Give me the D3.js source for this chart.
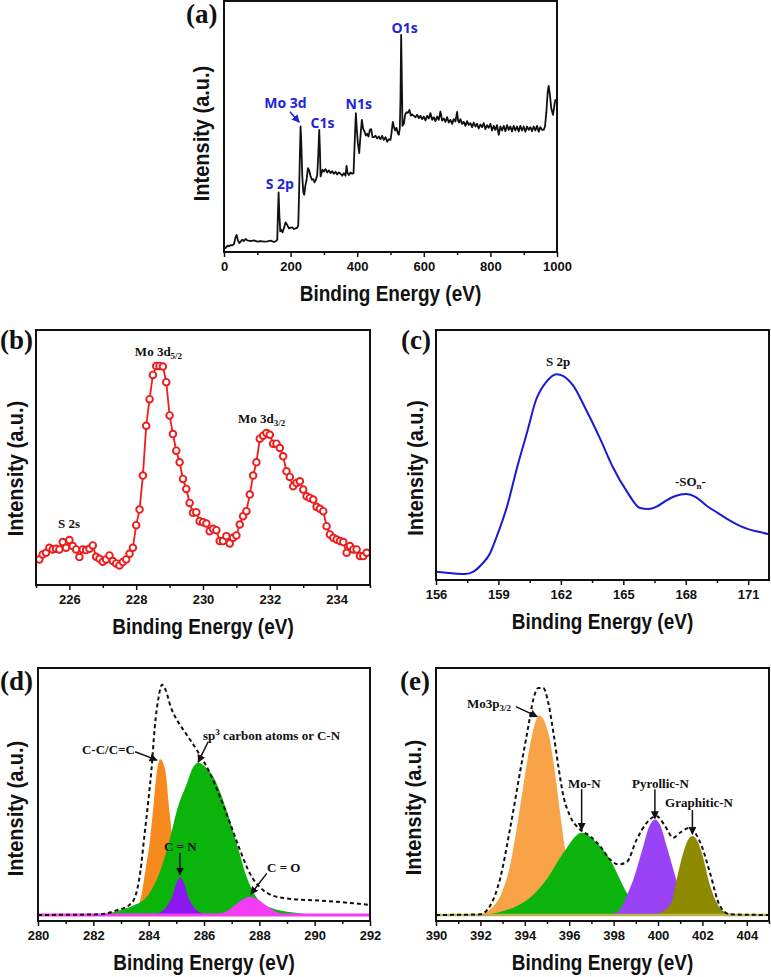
<!DOCTYPE html>
<html>
<head>
<meta charset="utf-8">
<script src="https://cdn.jsdelivr.net/npm/d3@7"></script>
<style>
  body { margin: 0; background: #fff; }
  .tick text { font-family: "Liberation Sans", Arial, sans-serif; font-weight: bold; font-size: 13px; fill: #111; }
  .tick line { stroke: #111; stroke-width: 1.5; }
  .axis-title { font-family: "Liberation Sans", Arial, sans-serif; font-weight: bold; font-size: 19px; fill: #111; }
  .y-title { font-size: 20px; }
  .panel-tag { font-family: "Liberation Serif", "Times New Roman", serif; font-weight: bold; font-size: 27px; fill: #111; }
  .peak { font-family: "Liberation Serif", "Times New Roman", serif; font-weight: bold; font-size: 13px; fill: #111; }
  .survey { font-family: "Open Sans", sans-serif; font-weight: 700; font-size: 14px; fill: #2323d8; }
</style>
</head>
<body>
<svg id="fig" width="771" height="977"></svg>
<script>
/**
 * DATA
 **/
// (a) survey spectrum: [binding energy eV, intensity a.u.]
const surveyData = [
  [0,15],[5,12],[10,19],[15,17],[20,21],[25,20],[30,24],[35,45],[38,51],[42,35],[46,27],[50,31],
  [55,37],[60,33],[65,39],[70,35],[80,33],[90,35],[100,31],[110,33],[120,31],[130,32],[140,34],
  [150,30],[156,33],[160,37],[162,117],[164,179],[166,117],[169,62],[172,67],[176,59],[180,72],
  [185,89],[190,81],[195,71],[200,73],[205,74],[210,69],[215,71],[220,73],[223,80],[225,157],
  [228,297],[230,377],[232,330],[235,230],[238,180],[241,172],[244,197],[248,217],[252,252],
  [256,245],[260,227],[264,217],[268,219],[272,209],[276,217],[280,232],[283,290],[286,367],
  [288,310],[290,227],[293,237],[296,247],[300,242],[305,249],[310,239],[315,245],[320,237],
  [325,243],[330,235],[335,241],[340,233],[345,239],[350,235],[355,229],[360,237],[365,229],
  [368,259],[371,237],[375,231],[380,239],[385,235],[389,237],[392,317],[396,417],[399,367],
  [402,327],[406,297],[410,350],[414,397],[418,370],[422,362],[426,350],[430,355],[434,347],
  [438,367],[442,369],[446,345],[450,345],[455,349],[460,341],[465,347],[470,339],[475,349],
  [480,337],[485,345],[490,331],[495,339],[500,337],[503,357],[507,391],[510,377],[514,365],
  [518,373],[522,357],[525,352],[528,372],[530,460],[532,652],[534,520],[536,379],[540,385],
  [544,412],[548,420],[552,418],[557,427],[561,410],[565,413],[570,409],[575,405],[580,412],
  [585,402],[590,409],[595,399],[600,407],[605,395],[610,409],[615,401],[620,417],[625,397],
  [630,405],[635,393],[640,407],[645,397],[650,422],[655,395],[660,401],[665,391],[670,405],
  [675,389],[680,397],[685,385],[690,399],[695,392],[700,421],[703,395],[706,389],[710,399],
  [715,385],[720,391],[725,379],[730,393],[735,382],[740,387],[745,375],[750,389],[755,377],
  [760,385],[765,371],[770,383],[775,375],[780,387],[785,369],[790,381],[795,373],[800,385],
  [805,365],[810,379],[815,367],[820,381],[825,352],[830,377],[835,365],[840,379],[845,363],
  [850,381],[855,367],[860,377],[865,362],[870,379],[875,365],[880,377],[885,362],[890,379],
  [895,365],[900,377],[905,361],[910,377],[915,367],[920,375],[925,363],[930,377],[935,365],
  [940,379],[945,361],[950,375],[955,367],[960,367],[964,377],[968,420],[972,480],[975,499],
  [979,470],[983,430],[988,412],[992,440],[995,457],[1000,452]
];

// (b) Mo 3d region, measured points
const moData = [
  [225.1,77],[225.2,92],[225.3,97],[225.4,112],[225.5,107],[225.6,109],[225.7,107],[225.8,129],
  [225.9,112],[226.0,135],[226.1,117],[226.2,107],[226.3,84],[226.4,107],[226.5,105],[226.6,109],
  [226.7,119],[226.8,85],[226.9,79],[227.0,70],[227.1,77],[227.2,89],[227.3,72],[227.4,65],
  [227.5,59],[227.6,69],[227.7,77],[227.8,94],[227.9,112],[228.0,180],[228.1,227],[228.2,329],
  [228.3,479],[228.4,559],[228.5,632],[228.6,659],[228.7,659],[228.8,657],[228.9,610],[229.0,510],
  [229.1,454],[229.2,404],[229.3,369],[229.4,319],[229.5,289],[229.6,247],[229.7,217],[229.8,219],
  [229.9,192],[230.0,189],[230.1,185],[230.2,162],[230.3,169],[230.4,165],[230.5,132],[230.6,132],
  [230.7,147],[230.8,125],[230.9,142],[231.0,149],[231.1,182],[231.2,207],[231.3,222],[231.4,272],
  [231.5,329],[231.6,369],[231.7,440],[231.8,449],[231.9,457],[232.0,452],[232.1,425],[232.2,425],
  [232.3,412],[232.4,387],[232.5,342],[232.6,325],[232.7,297],[232.8,307],[232.9,312],[233.0,287],
  [233.1,267],[233.2,262],[233.3,257],[233.4,235],[233.5,229],[233.6,222],[233.7,177],[233.8,152],
  [233.9,142],[234.0,137],[234.1,132],[234.2,129],[234.3,97],[234.4,117],[234.5,107],[234.6,107],
  [234.7,87],[234.8,87],[234.9,97]
];

// (c) S 2p region
const sData = [
  [156,25],[156.5,22],[157,19],[157.4,18],[157.8,25],[158.2,47],[158.6,80],[158.9,127],
  [159.4,217],[159.9,337],[160.4,447],[160.8,537],[161.3,592],[161.8,615],[162.1,610],
  [162.6,580],[163.2,510],[163.9,420],[164.5,337],[165.2,262],[165.8,215],[166.2,212],
  [166.6,219],[167,235],[167.5,251],[168,257],[168.5,247],[169,222],[169.5,202],[170,182],
  [170.5,165],[171,152],[171.5,144],[172,137]
];

// (d) C 1s fit components and envelope
const cEnvelope = [
  [280,0],[282.25,2],[282.85,14],[283.3,30],[283.5,52],[283.7,130],[283.84,232],[284.0,350],
  [284.1,432],[284.22,560],[284.36,650],[284.48,687],[284.62,670],[284.8,620],[285.0,585],
  [285.26,552],[285.74,492],[286.22,422],[286.58,352],[286.95,272],[287.31,192],[287.67,122],
  [288.03,82],[288.51,57],[289.23,47],[289.95,44],[290.68,40],[292,30]
];
const cCC = [
  [283.3,0],[283.5,15],[283.72,52],[283.88,132],[284.06,232],[284.18,332],[284.3,430],[284.42,465],
  [284.6,432],[284.75,312],[284.9,200],[285.05,110],[285.2,50],[285.4,12],[285.6,0]
];
const cSp3 = [
  [282.0,1],[282.5,5],[283.0,15],[283.45,28],[283.94,55],[284.42,132],[284.78,232],[285.02,312],
  [285.38,392],[285.6,440],[285.8,454],[286.0,445],[286.34,412],[286.82,312],[287.19,212],
  [287.55,112],[287.9,52],[288.39,22],[289.23,7],[290.0,1]
];
const cCN = [
  [284.2,0],[284.42,7],[284.65,25],[284.84,52],[285.0,95],[285.14,112],[285.28,95],[285.44,52],
  [285.65,22],[285.86,7],[286.1,0]
];
const cCO = [
  [286.3,0],[286.6,5],[286.9,15],[287.1,28],[287.4,46],[287.67,54],[287.95,46],[288.25,28],
  [288.5,14],[288.8,4],[289.1,0]
];

// (e) N 1s / Mo 3p fit components and envelope
const nEnvelope = [
  [390,0],[391.98,2],[392.43,27],[392.88,107],[393.33,257],[393.78,427],[394.16,567],[394.38,647],
  [394.61,682],[394.83,682],[395.06,637],[395.29,547],[395.51,447],[395.74,357],[396.04,297],
  [396.49,257],[396.94,237],[397.39,207],[397.84,167],[398.21,152],[398.59,159],[399.04,227],
  [399.49,277],[399.94,297],[400.32,267],[400.69,232],[400.99,247],[401.44,262],[401.67,247],
  [401.97,207],[402.34,127],[402.79,27],[403.24,2],[405,0]
];
const nMo3p = [
  [391.5,0],[391.98,2],[392.43,17],[392.96,67],[393.33,147],[393.63,257],[393.93,387],[394.23,507],
  [394.65,599],[395.06,547],[395.36,427],[395.59,307],[395.77,217],[396.0,130],[396.3,60],
  [396.7,20],[397.2,3],[397.6,0]
];
const nMoN = [
  [392.2,0],[392.73,7],[393.48,22],[394.23,52],[394.98,107],[395.74,187],[396.56,247],[397.24,217],
  [397.84,167],[398.29,107],[398.59,67],[399.0,35],[399.5,12],[400.2,3],[400.6,0]
];
const nPyr = [
  [397.7,0],[398.0,5],[398.3,17],[398.6,60],[398.89,107],[399.34,207],[399.6,265],[399.86,287],
  [400.1,270],[400.39,207],[400.69,137],[400.9,90],[401.2,40],[401.6,12],[402.0,3],[402.3,0]
];
const nGraph = [
  [399.5,0],[399.8,2],[400.2,10],[400.62,40],[400.84,107],[401.14,187],[401.35,225],[401.55,237],
  [401.75,225],[401.97,187],[402.35,87],[402.7,30],[402.94,12],[403.4,2],[403.7,0]
];

// tick values
const aTicks = [0, 200, 400, 600, 800, 1000], aMinor = [100, 300, 500, 700, 900];
const bTicks = [226, 228, 230, 232, 234], bMinor = [225, 227, 229, 231, 233, 235];
const cTicks = [156, 159, 162, 165, 168, 171], cMinor = [157.5, 160.5, 163.5, 166.5, 169.5];
const dTicks = [280, 282, 284, 286, 288, 290, 292], dMinor = [281, 283, 285, 287, 289, 291];
const eTicks = [390, 392, 394, 396, 398, 400, 402, 404], eMinor = [391, 393, 395, 397, 399, 401, 403, 405];

/**
 * SETUP
 **/
const svg = d3.select("#fig");
const defs = svg.append("defs");
[["arrowK", "#111"], ["arrowB", "#2323d8"]].forEach(([id, c]) => {
  defs.append("marker")
    .attr("id", id).attr("viewBox", "0 0 10 10")
    .attr("refX", 9).attr("refY", 5)
    .attr("markerWidth", 8).attr("markerHeight", 8)
    .attr("markerUnits", "userSpaceOnUse")
    .attr("orient", "auto")
    .append("path").attr("d", "M0,0 L10,5 L0,10 z").attr("fill", c);
});

function makePanel(cfg) {
  const g = svg.append("g");
  const x = d3.scaleLinear().domain(cfg.xDomain).range([cfg.left, cfg.right]);
  const y = d3.scaleLinear().domain(cfg.yDomain).range([cfg.bottom, cfg.top]);

  const clipId = "clip-" + cfg.tag;
  defs.append("clipPath").attr("id", clipId)
    .append("rect")
    .attr("x", cfg.left).attr("y", cfg.top)
    .attr("width", cfg.right - cfg.left).attr("height", cfg.bottom - cfg.top);

  const plot = g.append("g").attr("clip-path", `url(#${clipId})`);
  const notes = g.append("g");

  // minor + major ticks
  g.append("g")
    .attr("transform", `translate(0,${cfg.bottom})`)
    .call(d3.axisBottom(x).tickValues(cfg.minor).tickSize(3).tickFormat(""))
    .call(s => s.select(".domain").remove());
  g.append("g")
    .attr("transform", `translate(0,${cfg.bottom})`)
    .call(d3.axisBottom(x).tickValues(cfg.major).tickSize(5).tickPadding(5).tickFormat(d3.format("d")))
    .call(s => s.select(".domain").remove());

  // frame
  g.append("rect")
    .attr("x", cfg.left).attr("y", cfg.top)
    .attr("width", cfg.right - cfg.left).attr("height", cfg.bottom - cfg.top)
    .attr("fill", "none").attr("stroke", "#111").attr("stroke-width", 2);

  // titles (slightly stretched vertically like the source figure)
  g.append("text").attr("class", "axis-title")
    .attr("transform", `translate(${(cfg.left + cfg.right) / 2},${cfg.bottom + 49}) scale(1,1.12)`)
    .attr("text-anchor", "middle").text("Binding Energy (eV)");
  g.append("text").attr("class", "axis-title y-title")
    .attr("transform", `translate(${cfg.yTitleX},${(cfg.top + cfg.bottom) / 2 + cfg.yTitleDy}) rotate(-90) scale(1,1.12)`)
    .attr("text-anchor", "middle").text("Intensity (a.u.)");
  g.append("text").attr("class", "panel-tag")
    .attr("x", cfg.tagX).attr("y", cfg.tagY)
    .text(`(${cfg.tag})`);

  return { plot, notes, x, y };
}

function arrow(p, a, color) {
  p.notes.append("line")
    .attr("x1", p.x(a.from[0])).attr("y1", p.y(a.from[1]))
    .attr("x2", p.x(a.to[0])).attr("y2", p.y(a.to[1]))
    .attr("stroke", color || "#111").attr("stroke-width", 1.5)
    .attr("marker-end", color ? "url(#arrowB)" : "url(#arrowK)");
}

// label with optional sub/superscript pieces: [[text, shift], ...]
function label(p, cls, at, parts) {
  const t = p.notes.append("text").attr("class", cls)
    .attr("x", p.x(at[0])).attr("y", p.y(at[1]));
  let prev = 0;
  parts.forEach(([s, shift]) => {
    const ts = t.append("tspan").attr("dy", (shift || 0) - prev).text(s);
    if (shift) ts.style("font-size", "9px");
    prev = shift || 0;
  });
}

/**
 * (a) SURVEY
 **/
const pa = makePanel({ tag: "a", left: 224, right: 557, top: 1, bottom: 252,
  xDomain: [0, 1000], yDomain: [0, 754], major: aTicks, minor: aMinor,
  yTitleX: 209, yTitleDy: 7, tagX: 186, tagY: 23 });
pa.plot.append("path").datum(surveyData)
  .attr("fill", "none").attr("stroke", "#111").attr("stroke-width", 1.8)
  .attr("stroke-linejoin", "round")
  .attr("d", d3.line().x(d => pa.x(d[0])).y(d => pa.y(d[1])));
label(pa, "survey", [125, 189], [["S 2p"]]);
label(pa, "survey", [121, 432], [["Mo 3d"]]);
arrow(pa, { from: [198, 421], to: [226, 390] }, "#2323d8");
label(pa, "survey", [260, 372], [["C1s"]]);
label(pa, "survey", [365, 430], [["N1s"]]);
label(pa, "survey", [503, 658], [["O1s"]]);

/**
 * (b) Mo 3d
 **/
const pb = makePanel({ tag: "b", left: 36, right: 370, top: 330, bottom: 585,
  xDomain: [225, 235], yDomain: [0, 767], major: bTicks, minor: bMinor,
  yTitleX: 23, yTitleDy: 11, tagX: 0, tagY: 349 });
pb.plot.append("path").datum(moData)
  .attr("fill", "none").attr("stroke", "#ee1c1c").attr("stroke-width", 1.8)
  .attr("d", d3.line().x(d => pb.x(d[0])).y(d => pb.y(d[1])));
pb.plot.selectAll("circle").data(moData).join("circle")
  .attr("cx", d => pb.x(d[0])).attr("cy", d => pb.y(d[1])).attr("r", 3.3)
  .attr("fill", "#fff").attr("stroke", "#ee1c1c").attr("stroke-width", 1.9);
label(pb, "peak", [227.96, 689], [["Mo 3d"], ["5/2", 3]]);
label(pb, "peak", [231.05, 487], [["Mo 3d"], ["3/2", 3]]);
label(pb, "peak", [225.66, 171], [["S 2s"]]);

/**
 * (c) S 2p
 **/
const pc = makePanel({ tag: "c", left: 436, right: 769, top: 330, bottom: 580,
  xDomain: [156, 172], yDomain: [0, 747], major: cTicks, minor: cMinor,
  yTitleX: 423, yTitleDy: 13, tagX: 401, tagY: 349 });
pc.plot.append("path").datum(sData)
  .attr("fill", "none").attr("stroke", "#1a1ad6").attr("stroke-width", 2)
  .attr("d", d3.line().curve(d3.curveMonotoneX).x(d => pc.x(d[0])).y(d => pc.y(d[1])));
label(pc, "peak", [161.29, 639], [["S 2p"]]);
label(pc, "peak", [167.48, 281], [["-SO"], ["n", 3], ["-"]]);

/**
 * (d) C 1s
 **/
const pd = makePanel({ tag: "d", left: 38, right: 370, top: 668, bottom: 921,
  xDomain: [280, 292], yDomain: [-18, 737], major: dTicks, minor: dMinor,
  yTitleX: 23, yTitleDy: 14, tagX: 0, tagY: 690 });
const areaD = d3.area().curve(d3.curveMonotoneX)
  .x(d => pd.x(d[0])).y0(pd.y(0)).y1(d => pd.y(d[1]));
[[cCC, "#f68a1e"], [cSp3, "#0bb40b"], [cCN, "#8a18f0"], [cCO, "#f33cf3"]].forEach(([data, c]) => {
  pd.plot.append("path").datum(data).attr("fill", c).attr("d", areaD);
});
pd.plot.append("line")
  .attr("x1", pd.x(280)).attr("x2", pd.x(292)).attr("y1", pd.y(0)).attr("y2", pd.y(0))
  .attr("stroke", "#f33cf3").attr("stroke-width", 3);
pd.plot.append("path").datum(cEnvelope)
  .attr("fill", "none").attr("stroke", "#111").attr("stroke-width", 2).attr("stroke-dasharray", "4,3")
  .attr("d", d3.line().curve(d3.curveMonotoneX).x(d => pd.x(d[0])).y(d => pd.y(d[1])));
label(pd, "peak", [281.59, 480], [["C-C/C=C"]]);
arrow(pd, { from: [283.51, 487], to: [284.3, 462] });
label(pd, "peak", [285.96, 522], [["sp"], ["3", -5], [" carbon atoms or C-N"]]);
arrow(pd, { from: [286.15, 517], to: [285.79, 456] });
label(pd, "peak", [284.55, 192], [["C = N"]]);
arrow(pd, { from: [285.13, 185], to: [285.13, 120] });
label(pd, "peak", [288.28, 129], [["C = O"]]);
arrow(pd, { from: [288.27, 124], to: [287.69, 62] });

/**
 * (e) N 1s
 **/
const pe = makePanel({ tag: "e", left: 436, right: 769, top: 668, bottom: 921,
  xDomain: [390, 405], yDomain: [-18, 742], major: eTicks, minor: eMinor,
  yTitleX: 421, yTitleDy: 13, tagX: 400, tagY: 690 });
const areaE = d3.area().curve(d3.curveMonotoneX)
  .x(d => pe.x(d[0])).y0(pe.y(0)).y1(d => pe.y(d[1]));
[[nMo3p, "#f8a348"], [nMoN, "#0bb40b"], [nPyr, "#9a42f6"], [nGraph, "#8e8a00"]].forEach(([data, c]) => {
  pe.plot.append("path").datum(data).attr("fill", c).attr("d", areaE);
});
pe.plot.append("line")
  .attr("x1", pe.x(390)).attr("x2", pe.x(405)).attr("y1", pe.y(0)).attr("y2", pe.y(0))
  .attr("stroke", "#b9b34a").attr("stroke-width", 2.5);
pe.plot.append("path").datum(nEnvelope)
  .attr("fill", "none").attr("stroke", "#111").attr("stroke-width", 2).attr("stroke-dasharray", "4,3")
  .attr("d", d3.line().curve(d3.curveMonotoneX).x(d => pe.x(d[0])).y(d => pe.y(d[1])));
label(pe, "peak", [391.4, 622], [["Mo3p"], ["3/2", 3]]);
arrow(pe, { from: [393.6, 626], to: [394.56, 596] });
label(pe, "peak", [395.95, 382], [["Mo-N"]]);
arrow(pe, { from: [396.56, 378], to: [396.56, 255] });
label(pe, "peak", [398.83, 382], [["Pyrollic-N"]]);
arrow(pe, { from: [399.86, 378], to: [399.86, 290] });
label(pe, "peak", [400.32, 324], [["Graphitic-N"]]);
arrow(pe, { from: [401.55, 315], to: [401.55, 243] });
</script>
</body>
</html>
